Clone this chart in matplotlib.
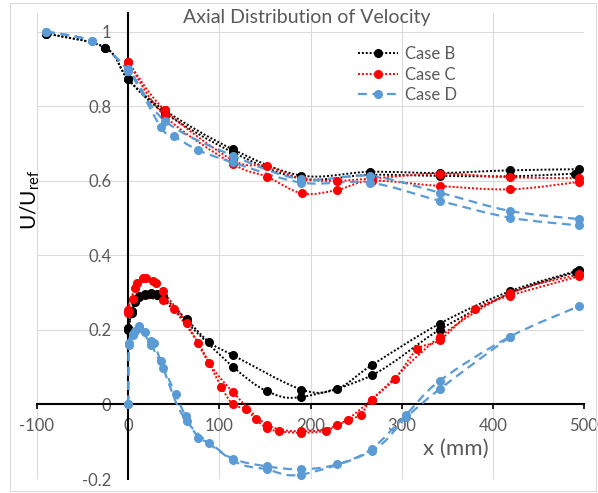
import numpy as np
import matplotlib
matplotlib.use('Agg')
import matplotlib.pyplot as plt
from matplotlib.path import Path
from matplotlib.patches import PathPatch, Rectangle
from matplotlib.lines import Line2D

plt.rcParams['font.family'] = ['Lato', 'DejaVu Sans']
plt.rcParams['mathtext.fontset'] = 'custom'
plt.rcParams['mathtext.rm'] = 'Lato'

# Case B (black) - upper and lower branches, two profiles each
b_up1_x = [-90, -25, 0, 40, 115, 190, 265, 342, 419, 495]
b_up1_y = [0.995, 0.957, 0.872, 0.789, 0.684, 0.614, 0.624, 0.621, 0.628, 0.631]
b_up2_x = [-90, -25, 0, 40, 115, 190, 265, 342, 419, 490]
b_up2_y = [0.995, 0.957, 0.872, 0.782, 0.676, 0.606, 0.616, 0.613, 0.612, 0.619]
b_lo1_x = [0, 4, 7, 12, 18, 25, 32, 38, 64, 89, 115, 190, 229, 267, 342, 419, 495]
b_lo1_y = [0.205, 0.25, 0.28, 0.292, 0.297, 0.3, 0.297, 0.29, 0.228, 0.167, 0.132, 0.04, 0.042, 0.105, 0.217, 0.304, 0.36]
b_lo2_x = [0, 4, 7, 12, 18, 25, 32, 38, 64, 115, 152, 190, 267, 342, 419, 491]
b_lo2_y = [0.2, 0.245, 0.275, 0.288, 0.293, 0.296, 0.293, 0.282, 0.22, 0.101, 0.036, 0.02, 0.078, 0.201, 0.298, 0.355]

# Case C (red)
c_up1_x = [0, 40, 115, 152, 191, 229, 267, 342, 419, 495]
c_up1_y = [0.919, 0.79, 0.655, 0.64, 0.605, 0.6, 0.606, 0.619, 0.609, 0.607]
c_up2_x = [0, 40, 115, 152, 191, 229, 267, 342, 419, 495]
c_up2_y = [0.919, 0.774, 0.645, 0.611, 0.566, 0.575, 0.6, 0.586, 0.577, 0.597]
c_lo1_x = [0, 7, 10, 16, 20, 27, 30, 38, 64, 89, 115, 152, 190, 229, 267, 342, 419, 495]
c_lo1_y = [0.253, 0.313, 0.327, 0.34, 0.34, 0.331, 0.327, 0.304, 0.219, 0.11, 0.033, -0.054, -0.072, -0.056, 0.013, 0.182, 0.298, 0.349]
c_lo2_x = [0, 5, 38, 50, 77, 102, 115, 129, 140, 152, 165, 190, 217, 241, 255, 267, 293, 317, 342, 380, 419, 495]
c_lo2_y = [0.245, 0.282, 0.28, 0.255, 0.164, 0.048, 0.0, -0.012, -0.04, -0.063, -0.072, -0.076, -0.07, -0.042, -0.027, 0.013, 0.069, 0.148, 0.173, 0.255, 0.292, 0.344]

# Case D (blue)
d_up1_x = [-90, -40, 0, 40, 115, 190, 265, 342, 419, 495]
d_up1_y = [1.0, 0.974, 0.899, 0.761, 0.667, 0.604, 0.613, 0.568, 0.519, 0.497]
d_up2_x = [-90, -40, 0, 36, 50, 77, 115, 190, 265, 342, 419, 495]
d_up2_y = [1.0, 0.974, 0.895, 0.743, 0.72, 0.682, 0.649, 0.595, 0.595, 0.546, 0.501, 0.48]
d_lo1_x = [0, 1, 5, 7, 12, 18, 25, 28, 36, 52, 63, 77, 89, 115, 152, 190, 229, 267, 305, 342, 419, 495]
d_lo1_y = [0.0, 0.166, 0.188, 0.197, 0.21, 0.194, 0.17, 0.166, 0.116, 0.027, -0.031, -0.089, -0.103, -0.146, -0.166, -0.174, -0.161, -0.119, -0.027, 0.064, 0.182, 0.264]
d_lo2_x = [0, 1, 5, 12, 25, 38, 64, 115, 152, 190, 267, 305, 342, 419]
d_lo2_y = [0.0, 0.16, 0.185, 0.205, 0.16, 0.098, -0.045, -0.15, -0.174, -0.188, -0.125, -0.035, 0.042, 0.182]

x_ticks = [-100, 0, 100, 200, 300, 400, 500]
x_labels = ['-100', '0', '100', '200', '300', '400', '500']
y_ticks = [-0.2, 0, 0.2, 0.4, 0.6, 0.8, 1.0]
y_labels = ['-0.2', '0', '0.2', '0.4', '0.6', '0.8', '1']

cases = [
    ('Case B', 'black', (0, (1, 1)), 1.4,
     [(b_up1_x, b_up1_y), (b_up2_x, b_up2_y), (b_lo1_x, b_lo1_y), (b_lo2_x, b_lo2_y)]),
    ('Case C', '#ff0000', (0, (1, 1)), 1.4,
     [(c_up1_x, c_up1_y), (c_up2_x, c_up2_y), (c_lo1_x, c_lo1_y), (c_lo2_x, c_lo2_y)]),
    ('Case D', '#5b9bd5', (0, (4, 2.5)), 1.6,
     [(d_up1_x, d_up1_y), (d_up2_x, d_up2_y), (d_lo1_x, d_lo1_y), (d_lo2_x, d_lo2_y)]),
]


def smooth_path(x, y):
    # excel style smoothed line: bezier segments with catmull-rom control points
    pts = np.column_stack([x, y]).astype(float)
    n = len(pts)
    verts = [pts[0]]
    codes = [Path.MOVETO]
    for i in range(n - 1):
        p0 = pts[i - 1] if i > 0 else pts[i]
        p1 = pts[i]
        p2 = pts[i + 1]
        p3 = pts[i + 2] if i + 2 < n else pts[i + 1]
        verts += [p1 + (p2 - p0) / 6, p2 - (p3 - p1) / 6, p2]
        codes += [Path.CURVE4] * 3
    return Path(verts, codes)


fig = plt.figure(figsize=(5.98, 4.93), dpi=100)
fig.patches.append(Rectangle((10 / 598, 2 / 493), 586 / 598, 488 / 493, transform=fig.transFigure,
                             fill=False, edgecolor='#d9d9d9', lw=0.75))
ax = fig.add_axes([37 / 598, 14 / 493, 547 / 598, 466 / 493])

handles = []
for name, color, ls, lw, series in cases:
    for xs, ys in series:
        ax.add_patch(PathPatch(smooth_path(xs, ys), fill=False, edgecolor=color, lw=lw,
                               linestyle=ls, zorder=3))
        ax.plot(xs, ys, 'o', color=color, ms=5.5, zorder=4)
    handles.append(Line2D([], [], color=color, lw=lw, linestyle=ls, marker='o', ms=5.5))

ax.set_xlim(-100, 500)
ax.set_ylim(-0.2, 1.05)
ax.set_xticks(x_ticks)
ax.set_xticklabels(x_labels)
ax.set_yticks(y_ticks)
ax.set_yticklabels(y_labels)
ax.grid(True, color='#d9d9d9', lw=0.75, zorder=0)
ax.set_axisbelow(True)

for s in ['top', 'right']:
    ax.spines[s].set_visible(False)
ax.spines['left'].set_position(('data', 0))
ax.spines['bottom'].set_position(('data', 0))
ax.spines['left'].set_linewidth(1.5)
ax.spines['bottom'].set_linewidth(1.5)

ax.tick_params(axis='x', direction='out', length=3.6, width=1.2, colors='black',
               labelcolor='#595959', labelsize=12, pad=6)
ax.tick_params(axis='y', length=0, labelcolor='#595959', labelsize=12, pad=12)

fig.text(307 / 598, 1 - 18 / 493, 'Axial Distribution of Velocity', ha='center', va='center',
         fontsize=14, color='#595959')
fig.text(456 / 598, 1 - 449 / 493, 'x (mm)', ha='center', va='center', fontsize=16, color='#595959')
fig.text(30 / 598, 1 - 200 / 493, r'U/U$_{\mathrm{ref}}$', ha='center', va='center', rotation=90,
         fontsize=15, color='black')

ax.legend(handles, [c[0] for c in cases], loc='upper left', bbox_to_anchor=(358 / 598, 1 - 46 / 493),
          bbox_transform=fig.transFigure, frameon=False, numpoints=1, handlelength=2.4,
          handletextpad=0.4, borderpad=0, borderaxespad=0, labelspacing=0.28,
          fontsize=12, labelcolor='#595959')

plt.savefig('out.png', dpi=100)
